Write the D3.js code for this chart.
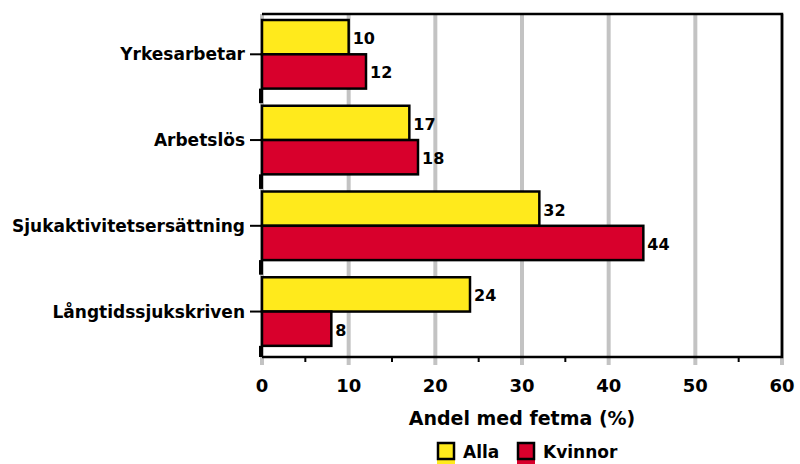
<!DOCTYPE html>
<html>
<head>
<meta charset="utf-8">
<script src="https://cdn.jsdelivr.net/npm/d3@7"></script>
<style>
  html, body { margin: 0; padding: 0; background: #fff; }
  svg { display: block; }
  text { font-family: "DejaVu Sans", sans-serif; font-weight: bold; fill: #000; }
</style>
</head>
<body>
<svg id="chart" width="800" height="464"></svg>
<script>
// Categories (groups on the vertical axis)
const categories = ["Yrkesarbetar", "Arbetslös", "Sjukaktivitetsersättning", "Långtidssjukskriven"];
// Series values: share with obesity (%)
const alla = [10, 17, 32, 24];
const kvinnor = [12, 18, 44, 8];
// Series names
const seriesNames = ["Alla", "Kvinnor"];
// Axis ticks
const xTicks = [0, 10, 20, 30, 40, 50, 60];
const xMinorTicks = [5, 15, 25, 35, 55];
const xTitle = "Andel med fetma (%)";

const colors = { Alla: "#ffea1c", Kvinnor: "#d8002c" };

const svg = d3.select("#chart");
const plotLeft = 262, plotRight = 782, plotTop = 14, plotBottom = 357;

const x = d3.scaleLinear().domain([0, 60]).range([plotLeft, plotRight]);
const y = d3.scaleBand().domain(categories).range([plotTop, plotBottom]).padding(0);
const bw = y.bandwidth();
const barH = bw * 0.4;
const slot = i => bw * (0.07 + 0.4 * i);

// Clip region for the plot
svg.append("clipPath").attr("id", "plotClip")
  .append("rect").attr("x", plotLeft - 4).attr("y", plotTop)
  .attr("width", plotRight - plotLeft + 8).attr("height", plotBottom - plotTop);

// Gray gridlines (extend below the axis as tick marks)
svg.append("g").selectAll("line")
  .data(xTicks)
  .join("line")
  .attr("x1", d => x(d)).attr("x2", d => x(d))
  .attr("y1", plotTop).attr("y2", plotBottom + 8)
  .attr("stroke", "#c3c3c3").attr("stroke-width", 4);

// Minor black ticks under the axis
svg.append("g").selectAll("line")
  .data(xMinorTicks)
  .join("line")
  .attr("x1", d => x(d)).attr("x2", d => x(d))
  .attr("y1", plotBottom).attr("y2", plotBottom + 5)
  .attr("stroke", "#000").attr("stroke-width", 2);

// Frame: top, right and bottom edges
svg.append("path")
  .attr("d", `M${plotLeft},${plotTop}H${plotRight}V${plotBottom}H${plotLeft}`)
  .attr("fill", "none").attr("stroke", "#000").attr("stroke-width", 2.5);

const plot = svg.append("g").attr("clip-path", "url(#plotClip)");

const rows = categories.map((c, i) => ({ c, alla: alla[i], kvinnor: kvinnor[i] }));

// Alla bars
plot.append("g").selectAll("rect")
  .data(rows)
  .join("rect")
  .attr("x", x(0))
  .attr("y", d => y(d.c) + slot(0))
  .attr("width", d => x(d.alla) - x(0))
  .attr("height", barH)
  .attr("fill", colors.Alla)
  .attr("stroke", "#000").attr("stroke-width", 2.5);

// Kvinnor bars
plot.append("g").selectAll("rect")
  .data(rows)
  .join("rect")
  .attr("x", x(0))
  .attr("y", d => y(d.c) + slot(1))
  .attr("width", d => x(d.kvinnor) - x(0))
  .attr("height", barH)
  .attr("fill", colors.Kvinnor)
  .attr("stroke", "#000").attr("stroke-width", 2.5);

// Empty third slot in each group (zero-width bar)
plot.append("g").selectAll("line")
  .data(rows)
  .join("line")
  .attr("x1", x(0) - 1).attr("x2", x(0) - 1)
  .attr("y1", d => y(d.c) + slot(2))
  .attr("y2", d => y(d.c) + slot(2) + bw * 0.17)
  .attr("stroke", "#000").attr("stroke-width", 4);

// Value labels
const labels = svg.append("g").attr("font-size", 16);
labels.selectAll("text.a")
  .data(rows)
  .join("text").attr("class", "a")
  .attr("x", d => x(d.alla) + 4)
  .attr("y", d => y(d.c) + slot(0) + barH / 2 + 1.5)
  .attr("dominant-baseline", "central")
  .text(d => d.alla);
labels.selectAll("text.k")
  .data(rows)
  .join("text").attr("class", "k")
  .attr("x", d => x(d.kvinnor) + 4)
  .attr("y", d => y(d.c) + slot(1) + barH / 2 + 1.5)
  .attr("dominant-baseline", "central")
  .text(d => d.kvinnor);

// Category axis: labels and ticks at the boundary between the two bars
const cat = svg.append("g");
cat.selectAll("line")
  .data(categories)
  .join("line")
  .attr("x1", plotLeft - 12).attr("x2", plotLeft)
  .attr("y1", d => y(d) + slot(1)).attr("y2", d => y(d) + slot(1))
  .attr("stroke", "#000").attr("stroke-width", 2);
cat.selectAll("text")
  .data(categories)
  .join("text")
  .attr("x", plotLeft - 17)
  .attr("y", d => y(d) + slot(1))
  .attr("text-anchor", "end")
  .attr("dominant-baseline", "central")
  .attr("font-size", 17)
  .text(d => d);

// Value axis tick labels
svg.append("g").selectAll("text")
  .data(xTicks)
  .join("text")
  .attr("x", d => x(d))
  .attr("y", 385)
  .attr("text-anchor", "middle")
  .attr("dominant-baseline", "central")
  .attr("font-size", 18)
  .text(d => d);

// Axis title
svg.append("text")
  .attr("x", (plotLeft + plotRight) / 2)
  .attr("y", 418)
  .attr("text-anchor", "middle")
  .attr("dominant-baseline", "central")
  .attr("font-size", 19)
  .text(xTitle);

// Legend
const legendPos = [{ name: seriesNames[0], x: 437 }, { name: seriesNames[1], x: 517 }];
const lg = svg.append("g");
legendPos.forEach(p => {
  lg.append("rect")
    .attr("x", p.x).attr("y", 460).attr("width", 18).attr("height", 6)
    .attr("fill", colors[p.name]);
  lg.append("rect")
    .attr("x", p.x + 1).attr("y", 443).attr("width", 16).attr("height", 16)
    .attr("fill", colors[p.name]).attr("stroke", "#000").attr("stroke-width", 2.5);
  lg.append("text")
    .attr("x", p.x + 26).attr("y", 452)
    .attr("dominant-baseline", "central")
    .attr("font-size", 17)
    .text(p.name);
});
</script>
</body>
</html>
